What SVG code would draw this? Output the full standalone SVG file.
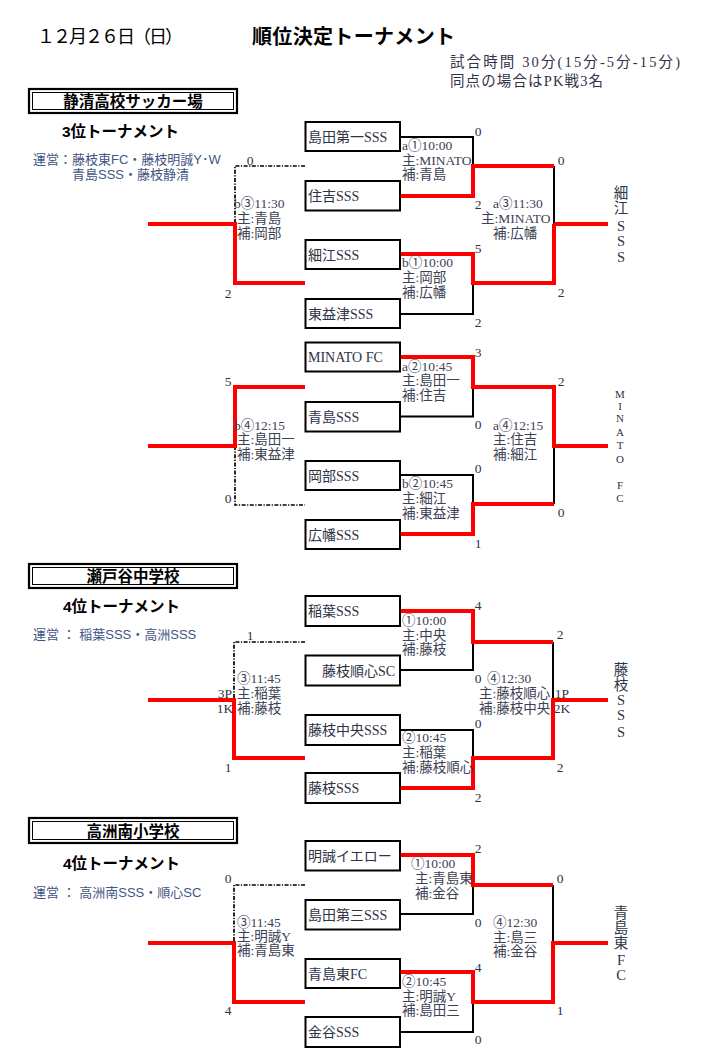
<svg xmlns="http://www.w3.org/2000/svg" width="707" height="1061" viewBox="0 0 707 1061">
<style>
.bg{fill:#fff}
.box{fill:#fff;stroke:#000;stroke-width:2}
.vo{fill:#fff;stroke:#000;stroke-width:2.2}
.vi{fill:none;stroke:#000;stroke-width:1}
.red{fill:none;stroke:#f00;stroke-width:4}
.blk{fill:none;stroke:#000;stroke-width:2}
.dash{fill:none;stroke:#000;stroke-width:1.7;stroke-dasharray:4 1.5 1.2 1.5}
.ser{font-family:"Liberation Serif","Noto Sans CJK JP",serif}
.san{font-family:"Liberation Sans","Noto Sans CJK JP",sans-serif}
.tm{font-size:14px;fill:#2e3446}
.lb{font-size:13.5px;fill:#3c4254}
.sc{font-size:13.5px;fill:#2e3446}
.vw{font-size:14.5px;fill:#2e3446;text-anchor:middle}
.vs{font-size:11px;fill:#2e3446;text-anchor:middle}
.hd{font-size:15.5px;font-weight:bold;fill:#000}
.op{font-size:13px;fill:#3f5683}
</style>
<rect class="bg" x="0" y="0" width="707" height="1061"/>

<g id="header">
<text class="san" x="37" y="43" font-size="18" textLength="146" lengthAdjust="spacing" fill="#000">１２月２６日（日）</text>
<text class="san" x="252" y="44" font-size="20" font-weight="bold" textLength="203" lengthAdjust="spacing" fill="#000">順位決定トーナメント</text>
<text class="ser" x="450" y="67" font-size="14.5" textLength="230" lengthAdjust="spacing" fill="#2e3446">試合時間  30分(15分-5分-15分)</text>
<text class="ser" x="450" y="86" font-size="14.5" textLength="153" lengthAdjust="spacing" fill="#2e3446">同点の場合はPK戦3名</text>
</g>

<g id="venue1">
<rect class="vo" x="29" y="89" width="208" height="24"/>
<rect class="vi" x="32.5" y="92.5" width="201" height="17"/>
<text class="san hd" x="133" y="106.5" text-anchor="middle">静清高校サッカー場</text>
<text class="san hd" x="62" y="136.5">3位トーナメント</text>
<text class="san op" x="33" y="163.5">運営：藤枝東FC・藤枝明誠Y･W</text>
<text class="san op" x="72" y="178.5">青島SSS・藤枝静清</text>
</g>

<g id="venue2">
<rect class="vo" x="29" y="564" width="208" height="24"/>
<rect class="vi" x="32.5" y="567.5" width="201" height="17"/>
<text class="san hd" x="133" y="581.5" text-anchor="middle">瀬戸谷中学校</text>
<text class="san hd" x="63" y="611.5">4位トーナメント</text>
<text class="san op" x="33" y="638.5">運営 ： 稲葉SSS・高洲SSS</text>
</g>

<g id="venue3">
<rect class="vo" x="29" y="818" width="208" height="25"/>
<rect class="vi" x="32.5" y="821.5" width="201" height="18"/>
<text class="san hd" x="133" y="836.5" text-anchor="middle">高洲南小学校</text>
<text class="san hd" x="63" y="868.5">4位トーナメント</text>
<text class="san op" x="33" y="896.5">運営 ： 高洲南SSS・順心SC</text>
</g>

<g id="connectors">
<path class="blk" d="M400,137 H473 V166"/>
<path class="blk" d="M554,166 V224"/>
<path class="blk" d="M473,283 V314 H400"/>
<path class="dash" d="M305,166 H235 V224"/>
<path class="red" d="M400,196 H473 V166 H554"/>
<path class="red" d="M554,224 V283 H473 V254 H400"/>
<path class="red" d="M554,224 H608"/>
<path class="red" d="M148,224 H235 V283 H305"/>
<path class="blk" d="M473,387 V416.5 H400"/>
<path class="blk" d="M554,446 V504"/>
<path class="blk" d="M400,475 H473 V504"/>
<path class="dash" d="M235,446 V505 H305"/>
<path class="red" d="M400,357 H473 V387 H554 V446 H608"/>
<path class="red" d="M400,534 H473 V504 H554"/>
<path class="red" d="M305,387 H235 V446 H148"/>
<path class="blk" d="M473,642 V670 H400"/>
<path class="blk" d="M553,642 V700"/>
<path class="blk" d="M400,730 H473 V758"/>
<path class="dash" d="M305,642 H234 V700"/>
<path class="red" d="M400,611 H473 V642 H553"/>
<path class="red" d="M608,700 H553 V758 H473 V788 H400"/>
<path class="red" d="M148,700 H234 V758 H305"/>
<path class="blk" d="M473,885 V914 H400"/>
<path class="blk" d="M553,885 V943"/>
<path class="blk" d="M473,1002 V1032 H400"/>
<path class="dash" d="M305,885 H234 V943"/>
<path class="red" d="M400,855 H473 V885 H553"/>
<path class="red" d="M608,943 H553 V1002 H473 V972 H400"/>
<path class="red" d="M148,943 H234 V1002 H305"/>
</g>

<g id="t-shimada1"><rect class="box" x="305.5" y="122" width="94.5" height="29"/><text class="ser tm" x="308" y="141.5">島田第一SSS</text></g>
<g id="t-sumiyoshi"><rect class="box" x="305.5" y="181" width="94.5" height="29.5"/><text class="ser tm" x="308" y="200.5">住吉SSS</text></g>
<g id="t-hosoe"><rect class="box" x="305.5" y="240" width="94.5" height="29"/><text class="ser tm" x="308" y="259.5">細江SSS</text></g>
<g id="t-higashimashizu"><rect class="box" x="305.5" y="299" width="94.5" height="29"/><text class="ser tm" x="308" y="318.5">東益津SSS</text></g>
<g id="t-minato"><rect class="box" x="305.5" y="342.5" width="94.5" height="29"/><text class="ser tm" x="308" y="362">MINATO FC</text></g>
<g id="t-aoshima"><rect class="box" x="305.5" y="402" width="94.5" height="29.5"/><text class="ser tm" x="308" y="421.5">青島SSS</text></g>
<g id="t-okabe"><rect class="box" x="305.5" y="461" width="94.5" height="29"/><text class="ser tm" x="308" y="480.5">岡部SSS</text></g>
<g id="t-hirohata"><rect class="box" x="305.5" y="520" width="94.5" height="29"/><text class="ser tm" x="308" y="539.5">広幡SSS</text></g>

<g id="t-inaba"><rect class="box" x="305.5" y="596" width="94.5" height="30"/><text class="ser tm" x="308" y="616">稲葉SSS</text></g>
<g id="t-junshin"><rect class="box" x="305.5" y="655.5" width="94.5" height="30"/><text class="ser tm" x="322" y="675.5">藤枝順心SC</text></g>
<g id="t-chuo"><rect class="box" x="305.5" y="715" width="94.5" height="30"/><text class="ser tm" x="308" y="735">藤枝中央SSS</text></g>
<g id="t-fujieda"><rect class="box" x="305.5" y="773" width="94.5" height="30"/><text class="ser tm" x="308" y="793">藤枝SSS</text></g>

<g id="t-meisei"><rect class="box" x="305.5" y="841" width="94.5" height="29.5"/><text class="ser tm" x="308" y="860.5">明誠イエロー</text></g>
<g id="t-shimada3"><rect class="box" x="305.5" y="900" width="94.5" height="29.5"/><text class="ser tm" x="308" y="919.5">島田第三SSS</text></g>
<g id="t-aoshimahigashi"><rect class="box" x="305.5" y="959" width="94.5" height="29"/><text class="ser tm" x="308" y="978.5">青島東FC</text></g>
<g id="t-kanaya"><rect class="box" x="305.5" y="1017" width="94.5" height="30"/><text class="ser tm" x="308" y="1037">金谷SSS</text></g>

<g id="m-s1-a1" class="ser lb"><text x="402" y="150">a①10:00</text><text x="402" y="164.5">主:MINATO</text><text x="402" y="179">補:青島</text></g>
<g id="m-s1-b3" class="ser lb"><text x="234" y="207.5">b③11:30</text><text x="237" y="222.5">主:青島</text><text x="237" y="237.5">補:岡部</text></g>
<g id="m-s1-a3" class="ser lb"><text x="493" y="207.5">a③11:30</text><text x="481" y="222.5">主:MINATO</text><text x="493" y="237.5">補:広幡</text></g>
<g id="m-s1-b1" class="ser lb"><text x="402" y="266.5">b①10:00</text><text x="402" y="281.5">主:岡部</text><text x="402" y="296.5">補:広幡</text></g>
<g id="m-s1-a2" class="ser lb"><text x="402" y="370.5">a②10:45</text><text x="402" y="384.5">主:島田一</text><text x="402" y="399.5">補:住吉</text></g>
<g id="m-s1-b4" class="ser lb"><text x="234" y="429.5">b④12:15</text><text x="237" y="443.5">主:島田一</text><text x="237" y="458.5">補:東益津</text></g>
<g id="m-s1-a4" class="ser lb"><text x="493" y="429.5">a④12:15</text><text x="493" y="443.5">主:住吉</text><text x="493" y="458.5">補:細江</text></g>
<g id="m-s1-b2" class="ser lb"><text x="402" y="487.5">b②10:45</text><text x="402" y="502.5">主:細江</text><text x="402" y="517.5">補:東益津</text></g>

<g id="m-s2-1" class="ser lb"><text x="402" y="624.5">①10:00</text><text x="402" y="639.5">主:中央</text><text x="402" y="653.5">補:藤枝</text></g>
<g id="m-s2-3" class="ser lb"><text x="237" y="682.5">③11:45</text><text x="237" y="697.5">主:稲葉</text><text x="237" y="712.5">補:藤枝</text></g>
<g id="m-s2-4" class="ser lb"><text x="487" y="682.5">④12:30</text><text x="479" y="697.5">主:藤枝順心</text><text x="479" y="712.5">補:藤枝中央</text></g>
<g id="m-s2-2" class="ser lb"><text x="402" y="741.5">②10:45</text><text x="402" y="756.5">主:稲葉</text><text x="402" y="771.5">補:藤枝順心</text></g>

<g id="m-s3-1" class="ser lb"><text x="411" y="867.5">①10:00</text><text x="415" y="882.5">主:青島東</text><text x="415" y="897.5">補:金谷</text></g>
<g id="m-s3-3" class="ser lb"><text x="237" y="926.5">③11:45</text><text x="237" y="940.5">主:明誠Y</text><text x="237" y="954.5">補:青島東</text></g>
<g id="m-s3-4" class="ser lb"><text x="493" y="926.5">④12:30</text><text x="493" y="941.5">主:島三</text><text x="493" y="955.5">補:金谷</text></g>
<g id="m-s3-2" class="ser lb"><text x="402" y="985.5">②10:45</text><text x="402" y="1000.5">主:明誠Y</text><text x="402" y="1014.5">補:島田三</text></g>

<g id="scores" class="ser sc" text-anchor="middle">
<text x="478" y="135.5">0</text><text x="478" y="208.5">2</text><text x="478" y="252.5">5</text><text x="478" y="326.5">2</text>
<text x="561" y="164.5">0</text><text x="561" y="296.5">2</text><text x="250" y="164.5">0</text><text x="228" y="297.5">2</text>
<text x="478" y="356.5">3</text><text x="478" y="428.5">0</text><text x="478" y="472.5">0</text><text x="478" y="547.5">1</text>
<text x="561" y="385.5">2</text><text x="561" y="516.5">0</text><text x="228" y="385.5">5</text><text x="228" y="502.5">0</text>
<text x="478" y="609.5">4</text><text x="478" y="682.5">0</text><text x="478" y="727.5">0</text><text x="478" y="801.5">2</text>
<text x="560" y="638.5">2</text><text x="560" y="771.5">2</text><text x="562" y="697.5">1P</text><text x="562" y="712.5">2K</text>
<text x="250" y="639.5">1</text><text x="228" y="771.5">1</text><text x="225" y="697.5">3P</text><text x="225" y="712.5">1K</text>
<text x="478" y="852.5">2</text><text x="478" y="926.5">0</text><text x="478" y="971.5">4</text><text x="478" y="1043.5">0</text>
<text x="560" y="882.5">0</text><text x="560" y="1014.5">1</text><text x="228" y="882.5">0</text><text x="228" y="1014.5">4</text>
</g>

<g id="w-s1a" class="ser vw"><text x="621" y="198">細</text><text x="621" y="213">江</text><text x="621" y="231">S</text><text x="621" y="246">S</text><text x="621" y="262">S</text></g>
<g id="w-s1b" class="ser vs"><text x="620" y="398">M</text><text x="620" y="410">I</text><text x="620" y="422">N</text><text x="620" y="436">A</text><text x="620" y="449">T</text><text x="620" y="463">O</text><text x="620" y="489">F</text><text x="620" y="502">C</text></g>
<g id="w-s2" class="ser vw"><text x="621" y="675">藤</text><text x="621" y="690">枝</text><text x="621" y="705">S</text><text x="621" y="720">S</text><text x="621" y="737">S</text></g>
<g id="w-s3" class="ser vw"><text x="621" y="918">青</text><text x="621" y="933">島</text><text x="621" y="948">東</text><text x="621" y="965">F</text><text x="621" y="980">C</text></g>
</svg>
